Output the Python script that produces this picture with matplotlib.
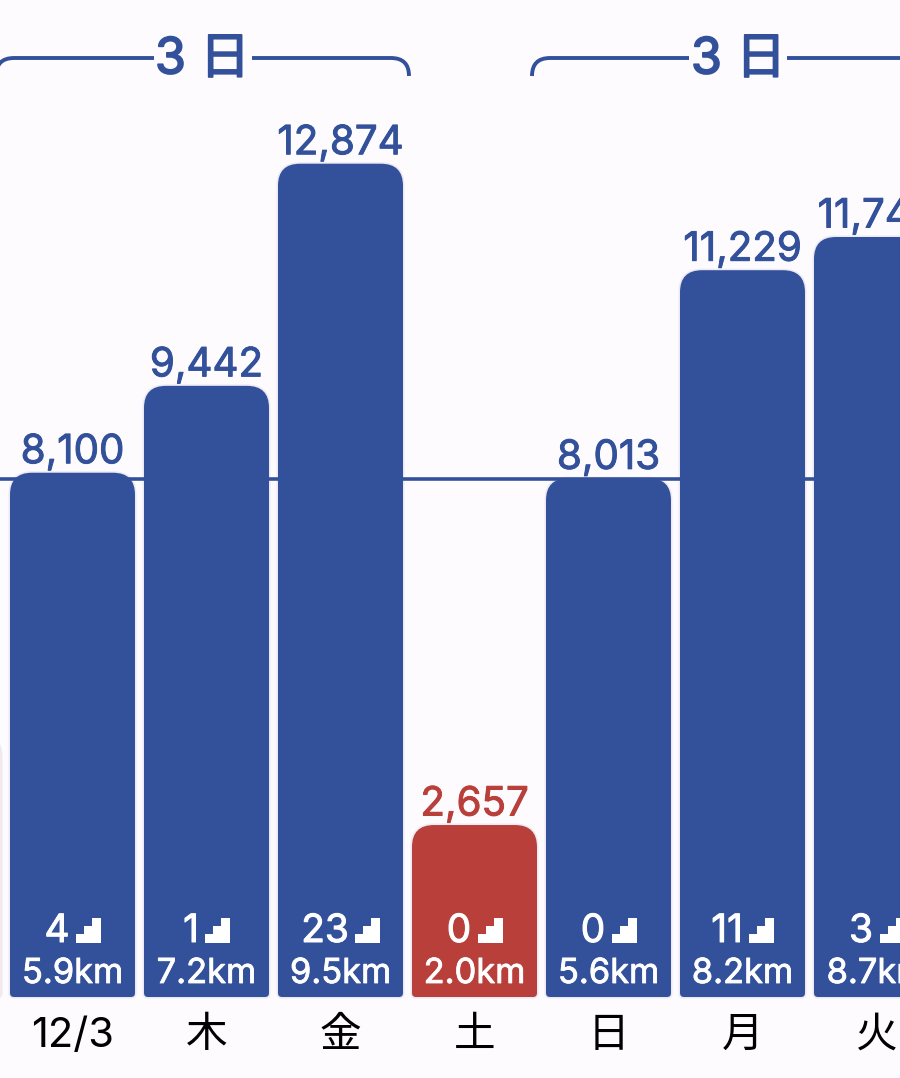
import matplotlib
matplotlib.use("Agg")
import matplotlib.pyplot as plt
import matplotlib.patheffects as pe
from matplotlib.path import Path
from matplotlib.patches import PathPatch

plt.rcParams['font.family'] = ['Inter', 'Noto Sans CJK JP', 'DejaVu Sans']

# data
days = ["", "12/3", "木", "金", "土", "日", "月", "火"]
steps = [4050, 8100, 9442, 12874, 2657, 8013, 11229, 11742]
floors = [None, 4, 1, 23, 0, 0, 11, 3]
distance = ["", "5.9km", "7.2km", "9.5km", "2.0km", "5.6km", "8.2km", "8.7km"]
goal = 8000
streaks = [("3 日", 1, 3), ("3 日", 5, 7)]

BLUE = "#33519b"
RED = "#b9403a"
PALE = "#f6e9e3"
BG = "#fdfbfd"
GOOD = 8000

W, H = 900, 1078
STEP_PX = 134.0       # bar spacing
BAR_PX = 125.0
UNITS_PER_PX = 15.45  # steps per pixel
BASE_Y = 997          # pixel row of the bars' foot
FIRST_X = 72.5        # pixel centre of index 1

fig = plt.figure(figsize=(W / 100, H / 100), dpi=100, facecolor=BG)
ax = fig.add_axes([0, 0, 1, 1])
ax.set_xlim(1 - FIRST_X / STEP_PX, 1 + (W - FIRST_X) / STEP_PX)
ax.set_ylim(-(H - BASE_Y) * UNITS_PER_PX, BASE_Y * UNITS_PER_PX)
ax.axis("off")


def px_x(n):
    return n / STEP_PX


def px_y(n):
    return n * UNITS_PER_PX


def heavier(color, w):
    # Inter only comes out regular here, so thicken the glyphs a little
    return [pe.withStroke(linewidth=w, foreground=color)]


def rounded_bar(x, value, color, top_r=22, foot_r=4):
    half = px_x(BAR_PX / 2)
    tx, ty = px_x(top_r), px_y(top_r)
    fx, fy = px_x(foot_r), px_y(foot_r)
    l, r = x - half, x + half
    verts = [
        (l + fx, 0), (r - fx, 0), (r, 0), (r, fy),
        (r, value - ty), (r, value), (r - tx, value),
        (l + tx, value), (l, value), (l, value - ty),
        (l, fy), (l, 0), (l + fx, 0), (l + fx, 0),
    ]
    codes = [
        Path.MOVETO, Path.LINETO, Path.CURVE3, Path.CURVE3,
        Path.LINETO, Path.CURVE3, Path.CURVE3,
        Path.LINETO, Path.CURVE3, Path.CURVE3,
        Path.LINETO, Path.CURVE3, Path.CURVE3, Path.CLOSEPOLY,
    ]
    # faint halo round each bar
    ax.add_patch(PathPatch(Path(verts, codes), facecolor="none", edgecolor="#ece9f4",
                           lw=2.2, zorder=0.5))
    ax.add_patch(PathPatch(Path(verts, codes), facecolor=color, edgecolor="none", zorder=3))


stair = Path(
    [(-.5, -.5), (.5, -.5), (.5, .5), (.17, .5), (.17, .17), (-.17, .17), (-.17, -.17), (-.5, -.17), (-.5, -.5)],
    [Path.MOVETO] + [Path.LINETO] * 7 + [Path.CLOSEPOLY],
)

ax.axhline(goal, color=BLUE, lw=2.6, zorder=1)

fig.canvas.draw()
renderer = fig.canvas.get_renderer()

for i, (day, val, fl, dist) in enumerate(zip(days, steps, floors, distance)):
    if fl is None:
        # only the edge of the previous bar shows
        rounded_bar(i, val, PALE)
        continue
    color = BLUE if val >= GOOD else RED
    rounded_bar(i, val, color)

    ax.text(i, val + px_y(9.5), f"{val:,}", color=color, fontsize=29,
            ha="center", va="baseline", zorder=4, path_effects=heavier(color, 0.7))
    ax.text(i, px_y(14), dist, color="white", fontsize=24.8,
            ha="center", va="baseline", zorder=4, path_effects=heavier("white", 0.6))
    ax.text(i, px_y(-50), day, color="black", fontsize=30,
            ha="center", va="baseline", zorder=4)

    # floors count and stair icon are centred together
    t = ax.text(i, px_y(55), str(fl), color="white", fontsize=28,
                ha="left", va="baseline", zorder=4, path_effects=heavier("white", 0.7))
    tw = t.get_window_extent(renderer).width
    total = tw + 6 + 25
    left = i - px_x(total / 2)
    t.set_x(left)
    ax.plot([left + px_x(tw + 6 + 12.5)], [px_y(67)], marker=stair, ms=18, color="white",
            mew=0, ls="none", zorder=4)

# streak brackets above the bars
for label, start, end in streaks:
    x0 = start - px_x(76.5)
    x1 = end + px_x(68.5)
    top = px_y(BASE_Y - 58)
    low = px_y(BASE_Y - 76)
    rx, ry = px_x(18), px_y(18)
    verts = [(x0, low), (x0, top), (x0 + rx, top), (x1 - rx, top), (x1, top), (x1, low)]
    codes = [Path.MOVETO, Path.CURVE3, Path.CURVE3, Path.LINETO, Path.CURVE3, Path.CURVE3]
    ax.add_patch(PathPatch(Path(verts, codes), facecolor="none", edgecolor=BLUE, lw=2.8,
                           capstyle="butt", zorder=2))
    ax.text((x0 + x1) / 2, top - px_y(2), label, color=BLUE, fontsize=36,
            ha="center", va="center", zorder=4, path_effects=heavier(BLUE, 1.3),
            bbox=dict(facecolor=BG, edgecolor="none", pad=1))

fig.savefig("out.png", dpi=100, facecolor=BG)
